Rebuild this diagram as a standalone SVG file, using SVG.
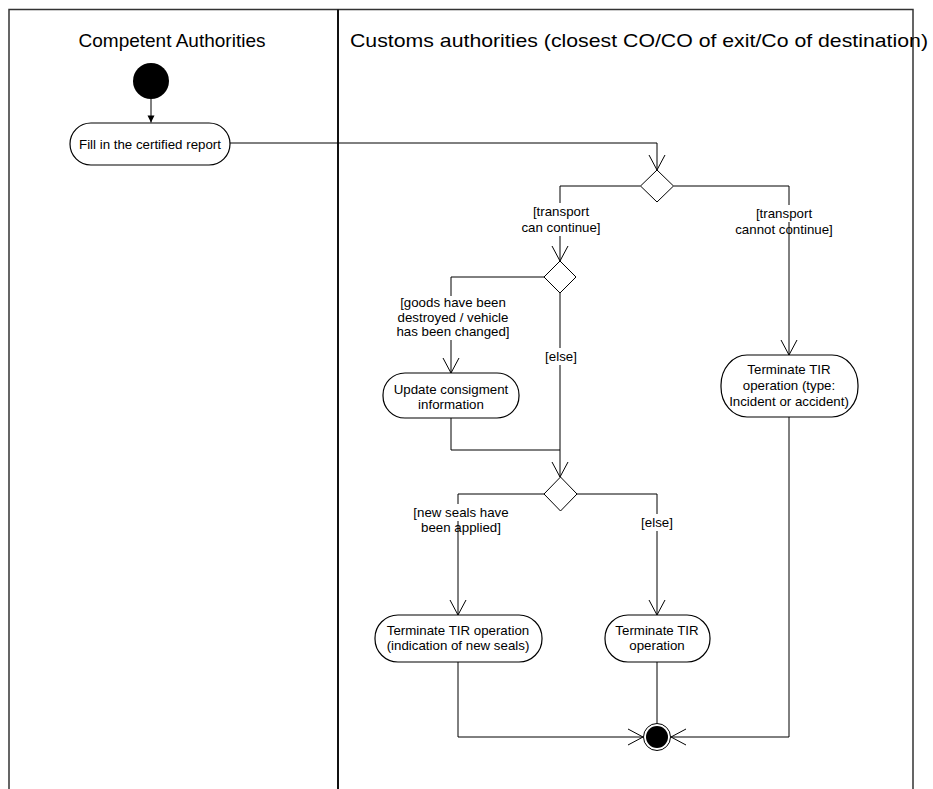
<svg xmlns="http://www.w3.org/2000/svg" width="933" height="789" viewBox="0 0 933 789">
  <defs>
    <marker id="open" viewBox="-16 -9 18 18" markerWidth="18" markerHeight="18" refX="0" refY="0" orient="auto" markerUnits="userSpaceOnUse">
      <path d="M-15,-8 L0,0 L-15,8" fill="none" stroke="#000" stroke-width="1"/>
    </marker>
    <marker id="solid" viewBox="-8 -5 9 10" markerWidth="9" markerHeight="10" refX="0" refY="0" orient="auto" markerUnits="userSpaceOnUse">
      <path d="M-7,-3.5 L0,0 L-7,3.5 Z" fill="#000"/>
    </marker>
  </defs>
  <style>
    .lane { stroke: #333; stroke-width: 1.5; fill: none; }
    .head { font-family: "Liberation Sans", Arial, sans-serif; font-size: 19px; fill: #000; }
    .act { fill: #fff; stroke: #000; stroke-width: 1.2; }
    .txt { font-family: "Liberation Sans", Arial, sans-serif; font-size: 13.3px; fill: #000; text-anchor: middle; }
    .flow { fill: none; stroke: #000; stroke-width: 1; }
    .dec { fill: #fff; stroke: #000; stroke-width: 1; }
    .bg { fill: #fff; stroke: none; }
  </style>
  <rect width="933" height="789" fill="#fff"/>

  <!-- swimlanes -->
  <g id="lanes">
    <path class="lane" d="M9,789 V9.5 H913 V789"/>
    <path d="M338,9.5 V789" stroke="#111" stroke-width="2" fill="none"/>
    <text class="head" x="172" y="47" text-anchor="middle">Competent Authorities</text>
    <text class="head" x="350" y="47" textLength="578" lengthAdjust="spacingAndGlyphs">Customs authorities (closest CO/CO of exit/Co of destination)</text>
  </g>

  <!-- connectors -->
  <g id="connectors">
    <path class="flow" d="M151,99 V122.5" marker-end="url(#solid)"/>
    <path class="flow" d="M230,143 H657 V170" marker-end="url(#open)"/>
    <path class="flow" d="M640.5,186 H560 V261" marker-end="url(#open)"/>
    <path class="flow" d="M673.5,186 H789 V355" marker-end="url(#open)"/>
    <path class="flow" d="M544,277 H451 V373" marker-end="url(#open)"/>
    <path class="flow" d="M560,293 V477" marker-end="url(#open)"/>
    <path class="flow" d="M451,418 V450 H560"/>
    <path class="flow" d="M544,494 H458 V615" marker-end="url(#open)"/>
    <path class="flow" d="M577,494 H657 V615" marker-end="url(#open)"/>
    <path class="flow" d="M458,662 V737 H643" marker-end="url(#open)"/>
    <path class="flow" d="M657,662 V723.5"/>
    <path class="flow" d="M789,417 V737 H671" marker-end="url(#open)"/>

    <!-- guard labels on white backing -->
    <rect class="bg" x="521" y="203" width="80" height="33"/>
    <text class="txt" x="561" y="216">[transport</text>
    <text class="txt" x="561" y="232">can continue]</text>
    <rect class="bg" x="752" y="205" width="64" height="17"/>
    <text class="txt" x="784" y="218">[transport</text>
    <text class="txt" x="784" y="234">cannot continue]</text>
    <rect class="bg" x="396" y="296" width="112" height="44"/>
    <text class="txt" x="453" y="307">[goods have been</text>
    <text class="txt" x="453" y="322">destroyed / vehicle</text>
    <text class="txt" x="453" y="336">has been changed]</text>
    <rect class="bg" x="545" y="348" width="32" height="17"/>
    <text class="txt" x="561" y="361">[else]</text>
    <rect class="bg" x="413" y="504" width="96" height="17"/>
    <text class="txt" x="461" y="517">[new seals have</text>
    <text class="txt" x="461" y="532">been applied]</text>
    <rect class="bg" x="641" y="514" width="32" height="17"/>
    <text class="txt" x="657" y="527">[else]</text>
  </g>

  <!-- start -->
  <g id="start">
    <circle cx="151" cy="81" r="18" fill="#000"/>
  </g>

  <g id="fill-report">
    <rect class="act" x="70" y="123" width="160" height="42" rx="21" ry="21"/>
    <text class="txt" x="150" y="149">Fill in the certified report</text>
  </g>

  <g id="decision-transport">
    <path class="dec" d="M657,170 L673.5,186 L657,202 L640.5,186 Z"/>
  </g>

  <g id="decision-goods">
    <path class="dec" d="M560,261 L576,277 L560,293 L544,277 Z"/>
  </g>

  <g id="update-consignment">
    <rect class="act" x="383" y="373" width="136" height="45" rx="22" ry="22"/>
    <text class="txt" x="451" y="394">Update consigment</text>
    <text class="txt" x="451" y="409">information</text>
  </g>

  <g id="terminate-incident">
    <rect class="act" x="721" y="355" width="137" height="62" rx="26" ry="30"/>
    <text class="txt" x="789" y="374">Terminate TIR</text>
    <text class="txt" x="789" y="390">operation (type:</text>
    <text class="txt" x="789" y="406">Incident or accident)</text>
  </g>

  <g id="decision-seals">
    <path class="dec" d="M560.5,477 L577,494 L560.5,511 L544,494 Z"/>
  </g>

  <g id="terminate-new-seals">
    <rect class="act" x="375" y="615" width="167" height="47" rx="23" ry="23"/>
    <text class="txt" x="458" y="635">Terminate TIR operation</text>
    <text class="txt" x="458" y="650">(indication of new seals)</text>
  </g>

  <g id="terminate">
    <rect class="act" x="605" y="615" width="105" height="47" rx="23" ry="23"/>
    <text class="txt" x="657" y="635">Terminate TIR</text>
    <text class="txt" x="657" y="650">operation</text>
  </g>

  <!-- end -->
  <g id="end">
    <circle cx="657" cy="737" r="13.5" fill="#fff" stroke="#000" stroke-width="1"/>
    <circle cx="657" cy="737" r="11" fill="#000"/>
  </g>
</svg>
